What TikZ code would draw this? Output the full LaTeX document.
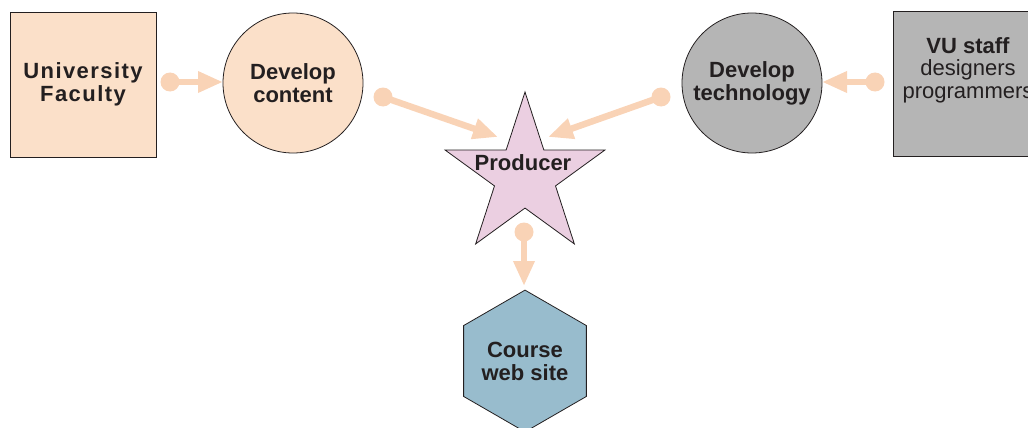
\documentclass[tikz,border=0pt]{standalone}
\usepackage{fontspec}
\setmainfont{Liberation Sans}
\newfontfamily\spacedfont[LetterSpace=6.5]{Liberation Sans}
\usetikzlibrary{shapes.geometric,arrows.meta}

\definecolor{ink}{HTML}{231F20}
\definecolor{peach}{HTML}{FBE0C9}
\definecolor{flowcol}{HTML}{F9D3B6}
\definecolor{techgray}{HTML}{B5B5B5}
\definecolor{starpink}{HTML}{EBCFE1}
\definecolor{siteblue}{HTML}{98BCCD}

\tikzset{
  every node/.style={text=ink},
  label font/.style={font=\fontsize{22}{23}\selectfont\bfseries},
  block/.style={draw=ink, line width=0.8pt, minimum width=146pt, minimum height=145pt, inner sep=0pt},
  disc/.style={circle, draw=ink, line width=0.8pt, minimum size=140pt, inner sep=0pt, align=center, label font},
  flow/.style={draw=flowcol, line width=6.5pt, -{Triangle[length=25pt,width=20pt]}},
  flowdot/.style={fill=flowcol},
}

\begin{document}
\begin{tikzpicture}[x=1pt,y=-1pt]
  \useasboundingbox (0,0) rectangle (1028,428);

  % left side: faculty and content
  \node[block, fill=peach, align=center, font=\fontsize{22}{23}\spacedfont\bfseries] (uf) at (83,84.5) {University\\Faculty};
  \node[disc, fill=peach] (dc) at (293,83) {Develop\\content};

  % right side: staff and technology
  \node[block, fill=techgray] (vu) at (966,84) {};
  \node[align=center, font=\fontsize{22}{22.5}\selectfont, anchor=north, inner sep=0pt] (vutext) at (968,37)
       {\textbf{VU staff}\\designers\\programmers};
  \node[disc, fill=techgray] (dt) at (752,83) {Develop\\technology};

  % producer star
  \node[star, star points=5, star point ratio=2.618, minimum size=168pt, inner sep=0pt,
        draw=ink, line width=0.8pt, fill=starpink] (prod) at (525,176) {};
  \node[label font, inner sep=0pt] (prodtext) at (523,163) {Producer};

  % course web site hexagon
  \node[regular polygon, regular polygon sides=6, shape border rotate=30, minimum size=141pt,
        inner sep=0pt, draw=ink, line width=0.8pt, fill=siteblue, align=center, label font] (site) at (525,361)
       {Course\\web site};

  % flow arrows
  \coordinate (d1) at (170,82);  \coordinate (t1) at (223,82);
  \coordinate (d2) at (875,82);  \coordinate (t2) at (822,82);
  \coordinate (d3) at (383,97);  \coordinate (t3) at (498,137);
  \coordinate (d4) at (661,97);  \coordinate (t4) at (548,137);
  \coordinate (d5) at (524,232); \coordinate (t5) at (524,286);

  \foreach \i in {1,...,5} {
    \draw[flow] (d\i) -- (t\i);
    \fill[flowdot] (d\i) circle[radius=9.5pt];
  }
\end{tikzpicture}
\end{document}
